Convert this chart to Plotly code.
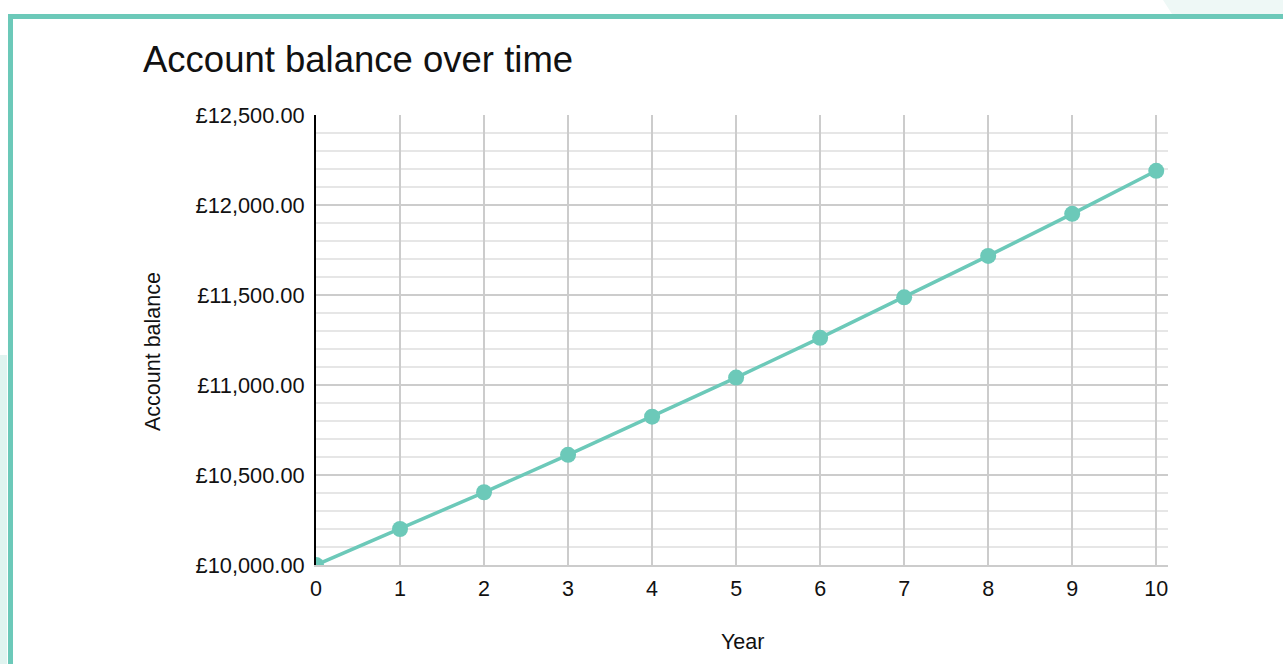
import plotly.graph_objects as go

years = [0, 1, 2, 3, 4, 5, 6, 7, 8, 9, 10]
balance = [10000, 10200, 10404, 10612, 10824, 11041, 11262, 11487, 11717, 11951, 12190]
title_text = "Account balance over time"
x_title = "Year"
y_title = "Account balance"

W, H = 1283, 664
L, R, T, B = 316, 1168, 115, 565
TEAL = "#6CC9B9"
FONT = "Liberation Sans, Arial, sans-serif"


def px(x):
    return (x - L) / (R - L)


def py(y):
    return (B - y) / (B - T)


fig = go.Figure()
fig.add_trace(go.Scatter(
    x=years, y=balance, mode="lines+markers",
    line=dict(color=TEAL, width=3.5),
    marker=dict(color=TEAL, size=16),
    cliponaxis=True, showlegend=False, hoverinfo="x+y",
))

fig.update_layout(
    width=W, height=H,
    margin=dict(l=L, r=W - R, t=T, b=H - B, pad=0),
    paper_bgcolor="white", plot_bgcolor="white",
    font=dict(family=FONT, size=21.5, color="#111111"),
    showlegend=False,
)

fig.update_xaxes(
    range=[0, 10.14], dtick=1, tick0=0,
    showgrid=True, gridcolor="#cccccc", gridwidth=2,
    zeroline=False, showline=True, linecolor="#cccccc", linewidth=2,
    ticks="", ticklabelstandoff=3,
    tickfont=dict(size=21.5, family=FONT, color="#111111"),
)
fig.update_yaxes(
    range=[10000, 12500], dtick=500, tick0=10000,
    tickprefix="£", tickformat=",.2f",
    showgrid=True, gridcolor="#cccccc", gridwidth=2,
    minor=dict(dtick=100, showgrid=True, gridcolor="#e6e6e6", gridwidth=2),
    zeroline=False, showline=True, linecolor="#000000", linewidth=2,
    ticks="", ticklabelstandoff=5,
    tickfont=dict(size=21.8, family=FONT, color="#111111"),
)

annotations = [
    dict(text=title_text, x=px(141), y=py(60), xref="paper", yref="paper",
         xanchor="left", yanchor="middle", showarrow=False,
         font=dict(size=36.5, family=FONT, color="#111111")),
    dict(text=x_title, x=px(742), y=py(642), xref="paper", yref="paper",
         xanchor="center", yanchor="middle", showarrow=False,
         font=dict(size=21.5, family=FONT, color="#111111")),
    dict(text=y_title, x=px(153), y=py(352), xref="paper", yref="paper",
         xanchor="center", yanchor="middle", showarrow=False, textangle=-90,
         font=dict(size=21.5, family=FONT, color="#111111")),
]
fig.update_layout(annotations=annotations)

shapes = [
    dict(type="path", xref="paper", yref="paper",
         path=f"M {px(1163)} {py(0)} L {px(1283)} {py(0)} L {px(1283)} {py(14)} L {px(1172)} {py(14)} Z",
         fillcolor="#EEF8F6", line=dict(width=0), layer="below"),
    dict(type="rect", xref="paper", yref="paper",
         x0=px(0), x1=px(7), y0=py(355), y1=py(664),
         fillcolor="#E0F4F0", line=dict(width=0), layer="below"),
    dict(type="rect", xref="paper", yref="paper",
         x0=px(8), x1=px(1283), y0=py(14), y1=py(19),
         fillcolor=TEAL, line=dict(width=0)),
    dict(type="rect", xref="paper", yref="paper",
         x0=px(8), x1=px(13), y0=py(14), y1=py(664),
         fillcolor=TEAL, line=dict(width=0)),
]
fig.update_layout(shapes=shapes)

fig.write_html(
    "out.html",
    config={"displayModeBar": False},
    post_script="document.body.style.margin='0';document.body.style.overflow='hidden';",
)
